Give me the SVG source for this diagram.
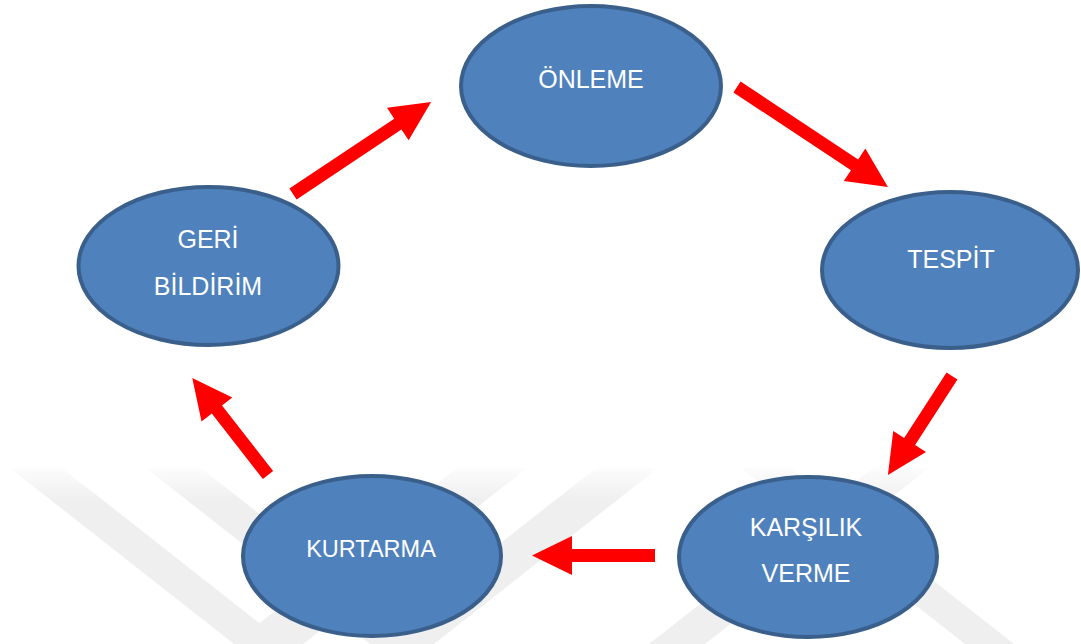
<svg xmlns="http://www.w3.org/2000/svg" width="1081" height="644" viewBox="0 0 1081 644">
  <style>
    .wm { fill: url(#wmFade); }
    .node ellipse { fill: #4f81bd; stroke: #3a5f8b; stroke-width: 4; }
    .node text { fill: #ffffff; font-family: "Liberation Sans", Arial, sans-serif; font-size: 25px; text-anchor: middle; }
    .arrow { fill: #ff0000; stroke: none; }
  </style>
  <defs>
    <linearGradient id="wmFade" gradientUnits="userSpaceOnUse" x1="0" y1="462" x2="0" y2="500">
      <stop offset="0" stop-color="#ffffff"/>
      <stop offset="1" stop-color="#efefef"/>
    </linearGradient>
  </defs>
  <rect width="1081" height="644" fill="#ffffff"/>
  <g id="watermark">
    <polygon class="wm" points="10,468 62,468 286,644 234,644"/>
    <polygon class="wm" points="146,468 201,468 425,644 370,644"/>
    <polygon class="wm" points="457,468 527,468 303,644 233,644"/>
    <polygon class="wm" points="596,468 658,468 434,644 372,644"/>
    <polygon class="wm" points="741,468 790,468 1014,644 965,644"/>
    <polygon class="wm" points="873,468 929,468 705,644 649,644"/>
  </g>
  <g id="connectors">
    <path class="arrow" transform="translate(737,87) rotate(33.5)" d="M0,-6.5 H141 V-19.5 L181,0 L141,19.5 V6.5 H0 Z"/>
    <path class="arrow" transform="translate(952,376) rotate(122.9)" d="M0,-6.5 H78 V-19.5 L118,0 L78,19.5 V6.5 H0 Z"/>
    <path class="arrow" transform="translate(655,555.5) rotate(180)" d="M0,-6.5 H83 V-19.5 L123,0 L83,19.5 V6.5 H0 Z"/>
    <path class="arrow" transform="translate(268,475) rotate(-128)" d="M0,-6.5 H83 V-19.5 L123,0 L83,19.5 V6.5 H0 Z"/>
    <path class="arrow" transform="translate(293,194) rotate(-33.7)" d="M0,-6.5 H126 V-19.5 L166,0 L126,19.5 V6.5 H0 Z"/>
  </g>
  <g id="onleme" class="node">
    <ellipse cx="591" cy="86" rx="130" ry="80"/>
    <text x="591" y="88">ÖNLEME</text>
  </g>
  <g id="tespit" class="node">
    <ellipse cx="950" cy="270" rx="128" ry="78"/>
    <text x="951" y="268">TESPİT</text>
  </g>
  <g id="karsilik-verme" class="node">
    <ellipse cx="808" cy="557" rx="129" ry="80"/>
    <text x="806" y="536">KARŞILIK</text>
    <text x="806" y="582">VERME</text>
  </g>
  <g id="kurtarma" class="node">
    <ellipse cx="372" cy="556" rx="129" ry="80"/>
    <text x="371" y="557" style="font-size:23.5px">KURTARMA</text>
  </g>
  <g id="geri-bildirim" class="node">
    <ellipse cx="208.5" cy="266" rx="130" ry="79"/>
    <text x="208" y="248">GERİ</text>
    <text x="208" y="295">BİLDİRİM</text>
  </g>
</svg>
